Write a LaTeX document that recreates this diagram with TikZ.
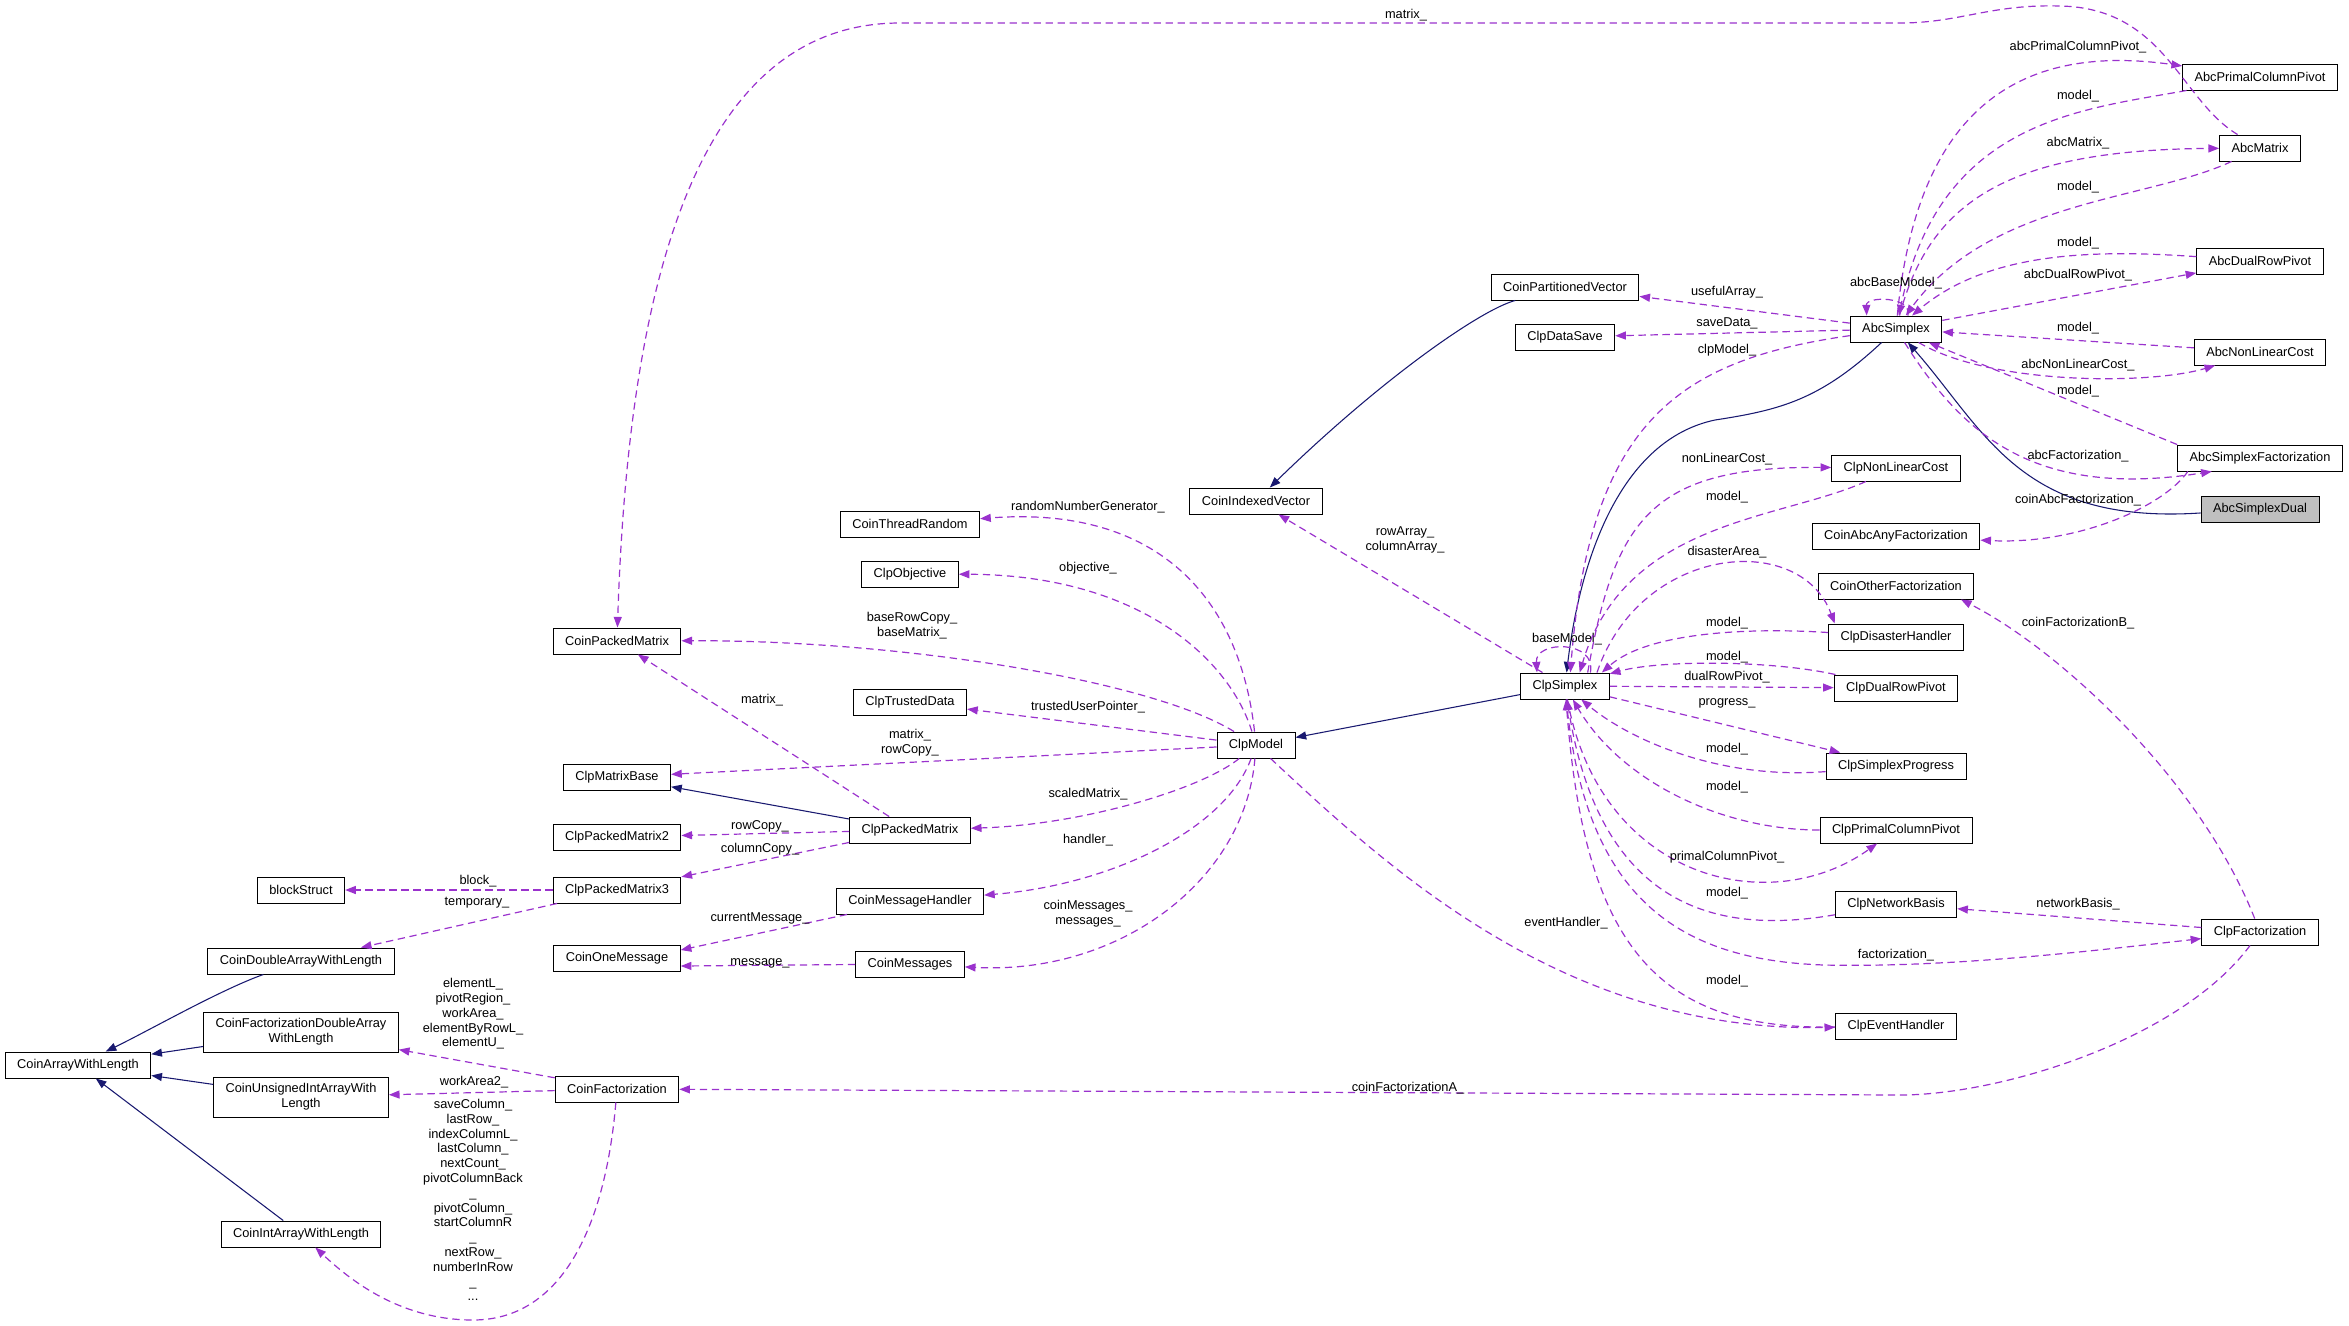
\documentclass[tikz,border=0pt]{standalone}
\usepackage{fontspec}
\setmainfont{Liberation Sans}
\usepackage{xcolor}
\usetikzlibrary{arrows.meta}
\definecolor{usecol}{HTML}{9A32CD}
\definecolor{isacol}{HTML}{191970}
\definecolor{focusgray}{HTML}{BFBFBF}
\tikzstyle{cls} = [draw=black, line width=0.7pt, inner xsep=9pt, inner ysep=2pt, minimum height=19.5pt, align=center, font=\fontsize{9.6}{11.1}\selectfont]
\tikzstyle{cls2} = [cls, minimum height=30pt]
\tikzstyle{focus} = [cls, fill=focusgray]
\tikzstyle{uses} = [draw=usecol, line width=0.9pt, dash pattern=on 5.5pt off 3.5pt, -{Triangle[length=8pt,width=6pt]}]
\tikzstyle{isa} = [draw=isacol, line width=0.8pt, -{Triangle[length=8pt,width=6pt]}]
\tikzstyle{lbl} = [inner sep=0pt, align=center, font=\fontsize{9.6}{11.1}\selectfont]

\begin{document}
\begin{tikzpicture}[x=0.75pt,y=-0.75pt]
\useasboundingbox (0,0) rectangle (2349,1325);
% classes, left to right
\node[cls] (CoinArrayWithLength) at (78,1065) {CoinArrayWithLength};
\node[cls] (blockStruct) at (301,890) {blockStruct};
\node[cls] (CoinDoubleArrayWithLength) at (301,961) {CoinDoubleArrayWithLength};
\node[cls2] (CoinFactorizationDoubleArrayWithLength) at (301,1032) {CoinFactorizationDoubleArray\\WithLength};
\node[cls2] (CoinUnsignedIntArrayWithLength) at (301,1097) {CoinUnsignedIntArrayWith\\Length};
\node[cls] (CoinIntArrayWithLength) at (301,1234) {CoinIntArrayWithLength};
\node[cls] (CoinPackedMatrix) at (617,641) {CoinPackedMatrix};
\node[cls] (ClpMatrixBase) at (617,777) {ClpMatrixBase};
\node[cls] (ClpPackedMatrix2) at (617,837) {ClpPackedMatrix2};
\node[cls] (ClpPackedMatrix3) at (617,890) {ClpPackedMatrix3};
\node[cls] (CoinOneMessage) at (617,958) {CoinOneMessage};
\node[cls] (CoinFactorization) at (617,1089) {CoinFactorization};
\node[cls] (CoinThreadRandom) at (910,524) {CoinThreadRandom};
\node[cls] (ClpObjective) at (910,574) {ClpObjective};
\node[cls] (ClpTrustedData) at (910,702) {ClpTrustedData};
\node[cls] (ClpPackedMatrix) at (910,830) {ClpPackedMatrix};
\node[cls] (CoinMessageHandler) at (910,901) {CoinMessageHandler};
\node[cls] (CoinMessages) at (910,964) {CoinMessages};
\node[cls] (CoinIndexedVector) at (1256,501) {CoinIndexedVector};
\node[cls] (ClpModel) at (1256,745) {ClpModel};
\node[cls] (CoinPartitionedVector) at (1565,287) {CoinPartitionedVector};
\node[cls] (ClpDataSave) at (1565,337) {ClpDataSave};
\node[cls] (ClpSimplex) at (1565,686) {ClpSimplex};
\node[cls] (AbcSimplex) at (1896,329) {AbcSimplex};
\node[cls] (ClpNonLinearCost) at (1896,468) {ClpNonLinearCost};
\node[cls] (CoinAbcAnyFactorization) at (1896,536) {CoinAbcAnyFactorization};
\node[cls] (CoinOtherFactorization) at (1896,586) {CoinOtherFactorization};
\node[cls] (ClpDisasterHandler) at (1896,637) {ClpDisasterHandler};
\node[cls] (ClpDualRowPivot) at (1896,688) {ClpDualRowPivot};
\node[cls] (ClpSimplexProgress) at (1896,766) {ClpSimplexProgress};
\node[cls] (ClpPrimalColumnPivot) at (1896,830) {ClpPrimalColumnPivot};
\node[cls] (ClpNetworkBasis) at (1896,904) {ClpNetworkBasis};
\node[cls] (ClpEventHandler) at (1896,1026) {ClpEventHandler};
\node[cls] (AbcPrimalColumnPivot) at (2260,77) {AbcPrimalColumnPivot};
\node[cls] (AbcMatrix) at (2260,148) {AbcMatrix};
\node[cls] (AbcDualRowPivot) at (2260,261) {AbcDualRowPivot};
\node[cls] (AbcNonLinearCost) at (2260,352) {AbcNonLinearCost};
\node[cls] (AbcSimplexFactorization) at (2260,458) {AbcSimplexFactorization};
\node[focus] (AbcSimplexDual) at (2260,509) {AbcSimplexDual};
\node[cls] (ClpFactorization) at (2260,932) {ClpFactorization};

% inheritance
\draw[isa] (CoinDoubleArrayWithLength) .. controls (220,990) and (150,1030) .. (CoinArrayWithLength);
\draw[isa] (CoinFactorizationDoubleArrayWithLength) -- (CoinArrayWithLength);
\draw[isa] (CoinUnsignedIntArrayWithLength) -- (CoinArrayWithLength);
\draw[isa] (CoinIntArrayWithLength) -- (CoinArrayWithLength);
\draw[isa] (ClpPackedMatrix) -- (ClpMatrixBase);
\draw[isa] (ClpSimplex) -- (ClpModel);
\draw[isa] (CoinPartitionedVector) .. controls (1480,310) and (1380,380) .. (CoinIndexedVector);
\draw[isa] (AbcSimplex) .. controls (1820,400) and (1780,410) .. (1715,420) .. controls (1620,440) and (1580,560) .. (ClpSimplex);
\draw[isa] (AbcSimplexDual) .. controls (2020,525) and (1985,430) .. (AbcSimplex);

% Abc members
\draw[uses] (AbcMatrix) .. controls (2180,100) and (2165,8) .. (2060,6) .. controls (1990,4) and (1960,23) .. (1900,23) -- (900,23) .. controls (690,23) and (628,300) .. (CoinPackedMatrix) node[lbl] (tMatrixA) at (1406,15) {matrix\_};
\draw[uses] (AbcSimplex) .. controls (1915,130) and (2000,40) .. (AbcPrimalColumnPivot) node[lbl] (tAbcPcp) at (2078,47) {abcPrimalColumnPivot\_};
\draw[uses] (AbcPrimalColumnPivot) .. controls (2080,110) and (1940,120) .. (AbcSimplex) node[lbl] (tModelA) at (2078,96) {model\_};
\draw[uses] (AbcSimplex) .. controls (1930,200) and (2010,150) .. (AbcMatrix) node[lbl] (tAbcMatrix) at (2078,143) {abcMatrix\_};
\draw[uses] (AbcMatrix) .. controls (2150,200) and (1990,200) .. (AbcSimplex) node[lbl] (tModelB) at (2078,187) {model\_};
\draw[uses] (AbcDualRowPivot) .. controls (2100,250) and (1990,250) .. (AbcSimplex) node[lbl] (tModelC) at (2078,243) {model\_};
\draw[uses] (AbcSimplex) -- (AbcDualRowPivot) node[lbl] (tAbcDrp) at (2078,275) {abcDualRowPivot\_};
\draw[uses] ([xshift=9pt]AbcSimplex.north) .. controls (1912,296) and (1866,296) .. ([xshift=-22pt]AbcSimplex.north) node[lbl] (tAbcBase) at (1896,283) {abcBaseModel\_};
\draw[uses] (AbcNonLinearCost) -- (AbcSimplex) node[lbl] (tModelD) at (2078,328) {model\_};
\draw[uses] (AbcSimplex) .. controls (1990,385) and (2150,385) .. (AbcNonLinearCost) node[lbl] (tAbcNlc) at (2078,365) {abcNonLinearCost\_};
\draw[uses] (AbcSimplexFactorization.north west) -- (AbcSimplex) node[lbl] (tModelE) at (2078,391) {model\_};
\draw[uses] (AbcSimplex) .. controls (1960,430) and (2030,500) .. ([xshift=26pt]AbcSimplexFactorization.south west) node[lbl] (tAbcFac) at (2078,456) {abcFactorization\_};
\draw[uses] ([xshift=8pt]AbcSimplexFactorization.south west) .. controls (2165,505) and (2080,545) .. (CoinAbcAnyFactorization) node[lbl] (tCoinAbc) at (2078,500) {coinAbcFactorization\_};
\draw[uses] (AbcSimplex) -- (CoinPartitionedVector) node[lbl] (tUseful) at (1727,292) {usefulArray\_};
\draw[uses] (AbcSimplex) -- (ClpDataSave) node[lbl] (tSave) at (1727,323) {saveData\_};
\draw[uses] (AbcSimplex) .. controls (1680,360) and (1590,420) .. ([xshift=4pt]ClpSimplex.north) node[lbl] (tClpModel) at (1727,350) {clpModel\_};

% ClpSimplex members
\draw[uses] (ClpSimplex) -- (CoinIndexedVector) node[lbl] (tArrays) at (1405,540) {rowArray\_\\columnArray\_};
\draw[uses] ([xshift=19pt]ClpSimplex.north) .. controls (1597,640) and (1535,640) .. ([xshift=-21pt]ClpSimplex.north) node[lbl] (tBase) at (1567,639) {baseModel\_};
\draw[uses] ([xshift=17pt]ClpSimplex.north) .. controls (1615,520) and (1650,466) .. (ClpNonLinearCost) node[lbl] (tNlc) at (1727,459) {nonLinearCost\_};
\draw[uses] (ClpNonLinearCost) .. controls (1780,520) and (1625,520) .. ([xshift=11pt]ClpSimplex.north) node[lbl] (tModelF) at (1727,497) {model\_};
\draw[uses] ([xshift=24pt]ClpSimplex.north) .. controls (1640,545) and (1800,530) .. ([xshift=5pt]ClpDisasterHandler.north west) node[lbl] (tDisaster) at (1727,552) {disasterArea\_};
\draw[uses] (ClpDisasterHandler) .. controls (1760,628) and (1650,630) .. ([xshift=-6pt]ClpSimplex.north east) node[lbl] (tModelG) at (1727,623) {model\_};
\draw[uses] (ClpDualRowPivot) .. controls (1770,660) and (1660,660) .. (ClpSimplex) node[lbl] (tModelH) at (1727,657) {model\_};
\draw[uses] (ClpSimplex) -- (ClpDualRowPivot) node[lbl] (tDrp) at (1727,677) {dualRowPivot\_};
\draw[uses] (ClpSimplex) -- (ClpSimplexProgress) node[lbl] (tProgress) at (1727,703) {progress\_};
\draw[uses] (ClpSimplexProgress) .. controls (1720,780) and (1630,740) .. (ClpSimplex) node[lbl] (tModelI) at (1727,749) {model\_};
\draw[uses] (ClpPrimalColumnPivot) .. controls (1720,830) and (1620,780) .. (ClpSimplex) node[lbl] (tModelJ) at (1727,787) {model\_};
\draw[uses] (ClpSimplex) .. controls (1600,880) and (1770,920) .. (ClpPrimalColumnPivot) node[lbl] (tPcp) at (1727,857) {primalColumnPivot\_};
\draw[uses] (ClpNetworkBasis) .. controls (1720,935) and (1600,910) .. (ClpSimplex) node[lbl] (tModelK) at (1727,893) {model\_};
\draw[uses] (ClpSimplex) .. controls (1585,900) and (1680,960) .. (1824,965) .. controls (1950,968) and (2100,950) .. (ClpFactorization) node[lbl] (tFact) at (1896,955) {factorization\_};
\draw[uses] (ClpEventHandler) .. controls (1660,1030) and (1585,950) .. (ClpSimplex) node[lbl] (tModelL) at (1727,981) {model\_};
\draw[uses] (ClpFactorization) -- (ClpNetworkBasis) node[lbl] (tNetwork) at (2078,904) {networkBasis\_};
\draw[uses] (ClpFactorization) .. controls (2200,780) and (2060,650) .. ([xshift=-10pt]CoinOtherFactorization.south east) node[lbl] (tFacB) at (2078,623) {coinFactorizationB\_};
\draw[uses] (ClpFactorization) .. controls (2180,1040) and (2000,1095) .. (1900,1095) -- (CoinFactorization) node[lbl] (tFacA) at (1408,1088) {coinFactorizationA\_};

% ClpModel members
\draw[uses] (ClpModel) .. controls (1240,600) and (1160,505) .. (CoinThreadRandom) node[lbl] (tRandom) at (1088,507) {randomNumberGenerator\_};
\draw[uses] (ClpModel) .. controls (1230,660) and (1140,575) .. (ClpObjective) node[lbl] (tObjective) at (1088,568) {objective\_};
\draw[uses] (ClpModel) .. controls (1150,680) and (900,640) .. (CoinPackedMatrix) node[lbl] (tBaseCopy) at (912,626) {baseRowCopy\_\\baseMatrix\_};
\draw[uses] (ClpModel) -- (ClpTrustedData) node[lbl] (tTrusted) at (1088,707) {trustedUserPointer\_};
\draw[uses] (ClpModel) -- (ClpMatrixBase) node[lbl] (tMatrixRow) at (910,743) {matrix\_\\rowCopy\_};
\draw[uses] (ClpModel) .. controls (1200,790) and (1080,825) .. (ClpPackedMatrix) node[lbl] (tScaled) at (1088,794) {scaledMatrix\_};
\draw[uses] (ClpModel) .. controls (1225,830) and (1110,885) .. (CoinMessageHandler) node[lbl] (tHandler) at (1088,840) {handler\_};
\draw[uses] (ClpModel) .. controls (1245,880) and (1120,975) .. (CoinMessages) node[lbl] (tMessages) at (1088,914) {coinMessages\_\\messages\_};
\draw[uses] (ClpModel) .. controls (1380,860) and (1560,1033) .. (ClpEventHandler) node[lbl] (tEvent) at (1566,923) {eventHandler\_};

% matrices and messages
\draw[uses] (ClpPackedMatrix) -- (CoinPackedMatrix) node[lbl] (tMatrixB) at (762,700) {matrix\_};
\draw[uses] (ClpPackedMatrix) -- (ClpPackedMatrix2) node[lbl] (tRowCopy) at (760,826) {rowCopy\_};
\draw[uses] (ClpPackedMatrix) -- (ClpPackedMatrix3) node[lbl] (tColCopy) at (760,849) {columnCopy\_};
\draw[uses] (ClpPackedMatrix3) -- (blockStruct) node[lbl] (tBlock) at (478,881) {block\_};
\draw[uses] (ClpPackedMatrix3) -- (CoinDoubleArrayWithLength) node[lbl] (tTemp) at (477,903) {temporary\_};
\draw[uses] (CoinMessageHandler) -- ([yshift=6pt]CoinOneMessage.east) node[lbl] (tCurMsg) at (760,918) {currentMessage\_};
\draw[uses] (CoinMessages) -- ([yshift=-6pt]CoinOneMessage.east) node[lbl] (tMsg) at (760,963) {message\_};

% factorization arrays
\draw[uses] (CoinFactorization) -- (CoinFactorizationDoubleArrayWithLength) node[lbl] (tDblArr) at (473,1014) {elementL\_\\pivotRegion\_\\workArea\_\\elementByRowL\_\\elementU\_};
\draw[uses] (CoinFactorization) -- (CoinUnsignedIntArrayWithLength) node[lbl] (tWork2) at (474,1082) {workArea2\_};
\draw[uses] (CoinFactorization) .. controls (605,1230) and (560,1320) .. (473,1320) .. controls (400,1320) and (350,1280) .. (CoinIntArrayWithLength) node[lbl] (tIntArr) at (473,1200) {saveColumn\_\\lastRow\_\\indexColumnL\_\\lastColumn\_\\nextCount\_\\pivotColumnBack\\ \_\\ pivotColumn\_\\startColumnR\\ \_\\ nextRow\_\\numberInRow\\ \_\\ ...};
\end{tikzpicture}
\end{document}
